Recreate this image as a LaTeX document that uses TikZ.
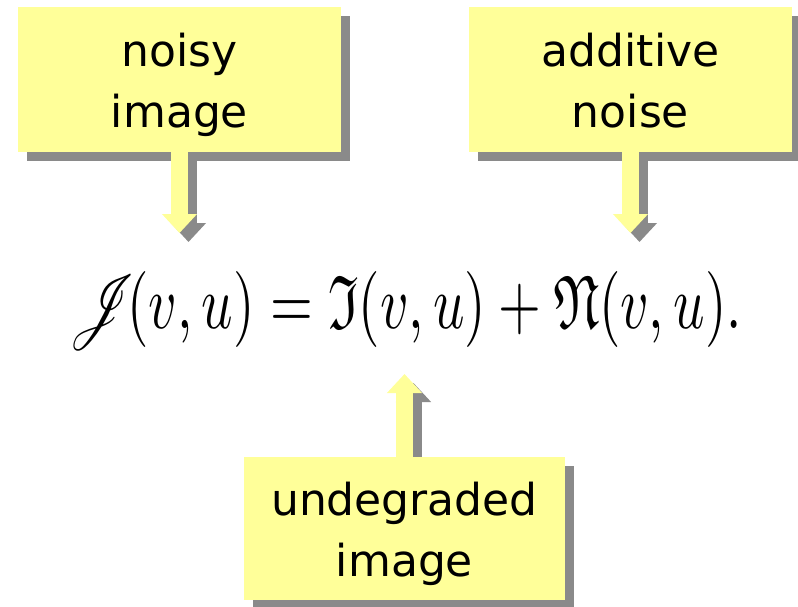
\documentclass[tikz,border=0pt]{standalone}
\usepackage{fontspec}
\setmainfont{DejaVu Sans}
\usepackage{amsmath,amssymb,mathrsfs}
\usetikzlibrary{arrows.meta,positioning,calc,backgrounds}
\definecolor{noteY}{HTML}{FFFF99}
\definecolor{shadowGray}{HTML}{8A8A8A}
\newcommand{\twoline}[2]{\raisebox{-5pt}[\height][\depth]{\begin{tabular}{@{}c@{}}#1\\#2\end{tabular}}}

\begin{document}
\begin{tikzpicture}[x=1pt, y=-1pt,
  note/.style={fill=noteY, inner sep=0pt, font=\fontsize{44}{61}\selectfont},
  blk/.style={line width=16.5pt, -{Triangle[width=34pt,length=19pt]}}]
\useasboundingbox (0,0) rectangle (798,606);
% label boxes
\node[note, minimum width=323pt, minimum height=145pt] (noisy) at (179.5,79.5) {\twoline{noisy}{image}};
\node[note, minimum width=323pt, minimum height=145pt] (additive) at (630.5,79.5) {\twoline{additive}{noise}};
\node[note, minimum width=321pt, minimum height=143pt] (undegraded) at (404.5,528.5) {\twoline{undegraded}{image}};
% the equation
\node[anchor=base, xscale=5.5, yscale=7.6] (eqn) at (405,328)
  {$\mathscr{J}\!(v,u)=\mathfrak{I}(v,u)+\mathfrak{N}(v,u).$};
\coordinate (jTip) at (noisy.south |- 0,233);
\coordinate (nTip) at (additive.south |- 0,233);
\coordinate (iTip) at (undegraded.north |- 0,374);
\begin{scope}[on background layer]
  \foreach \n in {noisy,additive,undegraded}
    \fill[shadowGray] ($(\n.south west)+(9,9)$) rectangle ($(\n.north east)+(9,9)$);
  \foreach \a/\b in {noisy.south/jTip, additive.south/nTip, undegraded.north/iTip}
    \draw[blk, shadowGray] ($(\a)+(9,9)$) -- ($(\b)+(9,9)$);
  \foreach \a/\b in {noisy.south/jTip, additive.south/nTip, undegraded.north/iTip}
    \draw[blk, noteY] (\a) -- (\b);
\end{scope}
\end{tikzpicture}
\end{document}
